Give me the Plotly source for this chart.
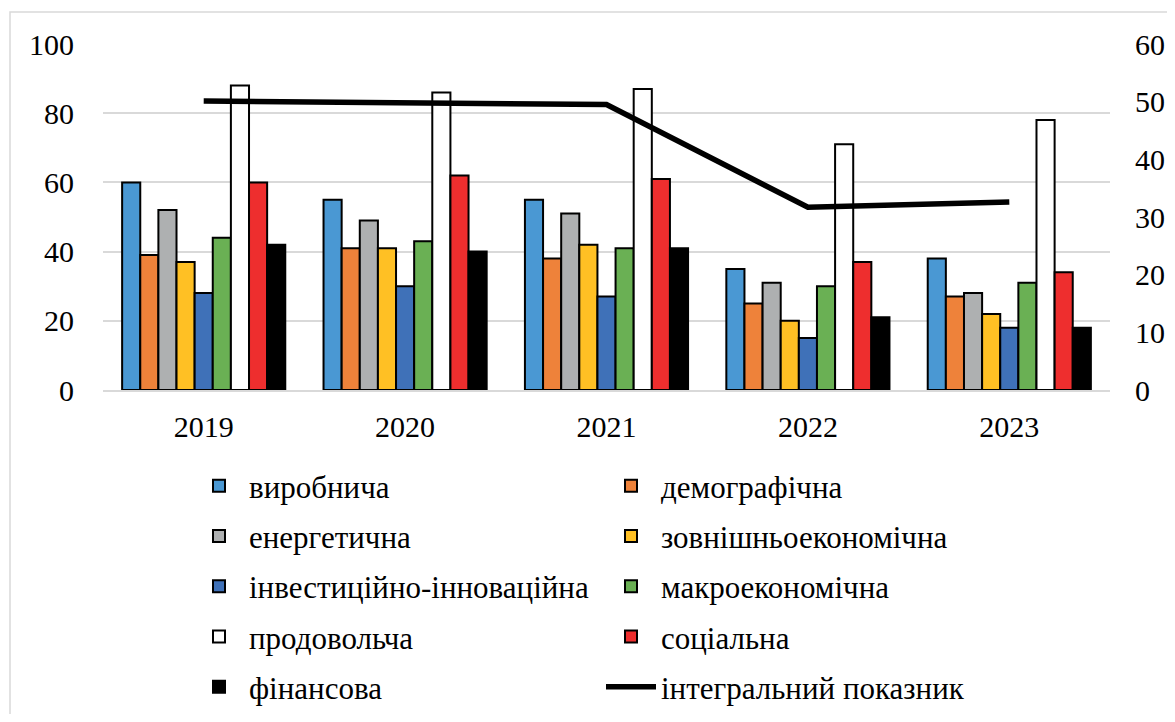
import plotly.graph_objects as go

years = ["2019", "2020", "2021", "2022", "2023"]

names = ["виробнича", "демографічна", "енергетична", "зовнішньоекономічна",
         "інвестиційно-інноваційна", "макроекономічна", "продовольча",
         "соціальна", "фінансова"]

vyrobnycha = [60, 55, 55, 35, 38]
demohrafichna = [39, 41, 38, 25, 27]
enerhetychna = [52, 49, 51, 31, 28]
zovnishnoekonomichna = [37, 41, 42, 20, 22]
investytsiino = [28, 30, 27, 15, 18]
makroekonomichna = [44, 43, 41, 30, 31]
prodovolcha = [88, 86, 87, 71, 78]
sotsialna = [60, 62, 61, 37, 34]
finansova = [42, 40, 41, 21, 18]

integral_name = "інтегральний показник"
integral = [50.1, 49.8, 49.5, 31.7, 32.6]

series = [vyrobnycha, demohrafichna, enerhetychna, zovnishnoekonomichna,
          investytsiino, makroekonomichna, prodovolcha, sotsialna, finansova]
colors = ["#4A98D3", "#EE823A", "#AEB0B1", "#FFC024", "#3F71B8",
          "#6AB054", "#FFFFFF", "#EE2E2E", "#000000"]

FONT = "Liberation Serif, Times New Roman, serif"

fig = go.Figure()
for i, (nm, vals, col) in enumerate(zip(names, series, colors)):
    fig.add_trace(go.Bar(
        x=years, y=vals, name=nm,
        marker=dict(color=col, line=dict(color="black", width=2)),
        legend="legend" if i % 2 == 0 else "legend2",
        legendgroup=nm,
    ))

fig.add_trace(go.Scatter(
    x=years, y=integral, name=integral_name, yaxis="y2",
    mode="lines", line=dict(color="black", width=5.5),
    legend="legend2", legendgroup=integral_name,
))

FW, FH = 1159, 706
L, T, W, H = 95, 36, 1007, 346

legend_common = dict(
    font=dict(family=FONT, size=31, color="black"),
    orientation="v", traceorder="grouped", tracegroupgap=7,
    xref="container", yref="container",
    yanchor="top", xanchor="left", bgcolor="rgba(0,0,0,0)",
    itemwidth=50,
)

fig.update_layout(
    width=FW, height=FH,
    margin=dict(l=L, r=FW - L - W, t=T, b=FH - T - H, autoexpand=False),
    paper_bgcolor="white", plot_bgcolor="white",
    font=dict(family=FONT, size=30, color="black"),
    barmode="group", bargap=0.19, bargroupgap=0,
    showlegend=True,
    xaxis=dict(showline=True, linecolor="#d9d9d9", linewidth=1.5,
               ticks="", ticklabelstandoff=9,
               tickfont=dict(family=FONT, size=30)),
    yaxis=dict(range=[0, 100], dtick=20, showgrid=True, gridcolor="#d9d9d9",
               gridwidth=1.5, zeroline=False, ticks="", ticklabelstandoff=28,
               tickfont=dict(family=FONT, size=30)),
    yaxis2=dict(range=[0, 60], dtick=10, overlaying="y", side="right",
                showgrid=False, zeroline=False, ticks="", ticklabelstandoff=24,
                tickfont=dict(family=FONT, size=30)),
    legend=dict(x=181/FW, y=1-451/FH, **legend_common),
    legend2=dict(x=593/FW, y=1-451/FH, **legend_common),
    shapes=[dict(type="rect", xref="paper", yref="paper",
                 x0=(2 - L)/W, x1=(1190 - L)/W,
                 y0=(T + H - 740)/H, y1=(T + H - 4)/H,
                 line=dict(color="#d9d9d9", width=1.5), layer="below")],
)

fig.write_html("out.html")
